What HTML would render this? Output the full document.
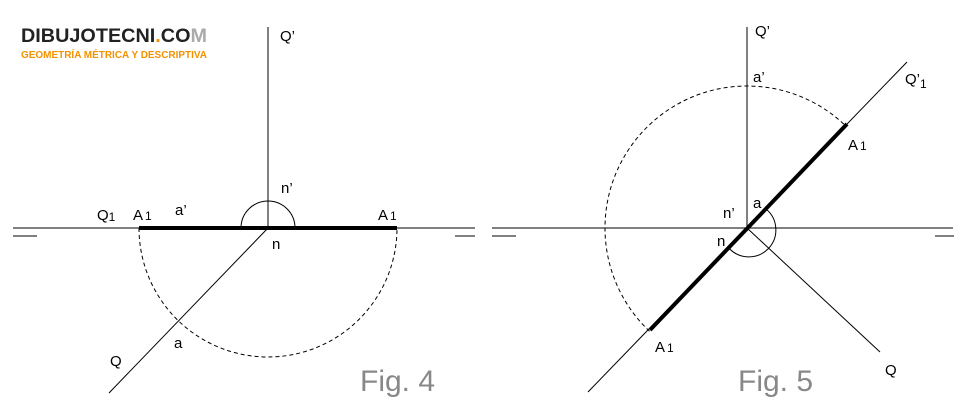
<!DOCTYPE html>
<html><head><meta charset="utf-8"><style>
html,body{margin:0;padding:0;background:#fff;}
svg{display:block;}
text{font-family:"Liberation Sans",sans-serif;}
</style></head><body>
<svg width="971" height="415" viewBox="0 0 971 415" xmlns="http://www.w3.org/2000/svg">
<text x="21" y="42" font-size="19" font-weight="bold" fill="#222" textLength="186" lengthAdjust="spacingAndGlyphs">DIBUJOTECNI<tspan fill="#f39200">.</tspan>CO<tspan fill="#aaa">M</tspan></text>
<text x="21" y="58" font-size="10" font-weight="bold" fill="#f39200" textLength="186" lengthAdjust="spacingAndGlyphs">GEOMETRÍA MÉTRICA Y DESCRIPTIVA</text>

<g stroke="#000" fill="none" stroke-width="1">
<!-- Fig 4 -->
<line x1="268" y1="27" x2="268" y2="228"/>
<line x1="13" y1="228" x2="475" y2="228"/>
<line x1="13" y1="236" x2="37" y2="236"/>
<line x1="455" y1="236" x2="475" y2="236"/>
<line x1="268" y1="228" x2="109" y2="393"/>
<path d="M241 228 A27 27 0 0 1 295 228"/>
<path d="M139 228 A129 129 0 0 0 397 228" stroke-dasharray="4,3"/>
<line x1="139" y1="228" x2="397" y2="228" stroke-width="4"/>
<!-- Fig 5 -->
<line x1="747" y1="27" x2="747" y2="228"/>
<line x1="492" y1="228" x2="953" y2="228"/>
<line x1="492" y1="236" x2="516" y2="236"/>
<line x1="935" y1="236" x2="954" y2="236"/>
<line x1="907" y1="62" x2="588" y2="392"/>
<line x1="747" y1="228" x2="880" y2="352"/>
<path d="M766 209 A27 27 0 1 1 728 247"/>
<path d="M843.8 124.1 A142 142 0 0 0 650.2 331.9" stroke-dasharray="4,3"/>
<line x1="650" y1="330" x2="847" y2="124" stroke-width="4"/>
</g>

<g font-size="15" fill="#000">
<text x="280" y="41">Q’</text>
<text x="97" y="220">Q<tspan font-size="12" dy="1">1</tspan></text>
<text x="133" y="220">A<tspan font-size="12" dx="2">1</tspan></text>
<text x="175" y="215">a’</text>
<text x="281" y="193">n’</text>
<text x="378" y="220">A<tspan font-size="12" dx="2">1</tspan></text>
<text x="272" y="249">n</text>
<text x="174" y="348">a</text>
<text x="110" y="366">Q</text>

<text x="755" y="36">Q’</text>
<text x="753" y="82">a’</text>
<text x="905" y="84">Q’<tspan font-size="12" dy="4">1</tspan></text>
<text x="848" y="150">A<tspan font-size="12" dx="2">1</tspan></text>
<text x="723" y="218">n’</text>
<text x="753" y="208">a</text>
<text x="717" y="246">n</text>
<text x="655" y="352">A<tspan font-size="12" dx="2">1</tspan></text>
<text x="885" y="375">Q</text>
</g>
<text x="360" y="391" font-size="30" fill="#888">Fig. 4</text>
<text x="738" y="391" font-size="30" fill="#888">Fig. 5</text>
</svg>
</body></html>
